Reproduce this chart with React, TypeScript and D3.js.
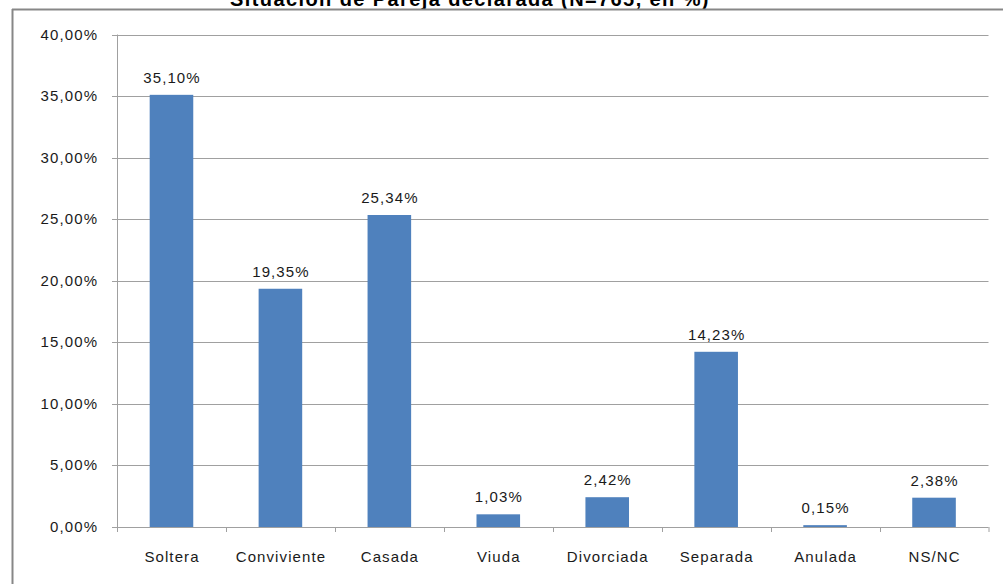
import React from "react";
import * as d3 from "d3";

const categories = ["Soltera", "Conviviente", "Casada", "Viuda", "Divorciada", "Separada", "Anulada", "NS/NC"];
const values = [35.10, 19.35, 25.34, 1.03, 2.42, 14.23, 0.15, 2.38];
const yTicks = [0, 5, 10, 15, 20, 25, 30, 35, 40];
const title = "Situación de Pareja declarada (N=765, en %)";

const W = 1003, H = 584;
const left = 117, right = 988.5, top = 34.5, bottom = 527;
const font = "'Liberation Sans', Arial, sans-serif";
const fmt = (v: number) => v.toFixed(2).replace(".", ",") + "%";
const ls = 1.1;

export default function App() {
  const x = d3.scaleBand<string>().domain(categories).range([left, right]).paddingInner(0.6).paddingOuter(0.3);
  const xb = d3.scaleBand<string>().domain(categories).range([left, right]);
  const y = d3.scaleLinear().domain([0, 40]).range([bottom, top]);
  return (
    <svg width={W} height={H} style={{ position: "absolute", left: 0, top: 0 }} fontFamily={font}>
      <rect x={0} y={0} width={W} height={H} fill="#fff" />
      <text x={470} y={6} textAnchor="middle" fontSize={20} letterSpacing={1.4} fontWeight="bold" fill="#000">{title}</text>
      <line x1={12} x2={W} y1={9.5} y2={9.5} stroke="#878787" strokeWidth={2} />
      <line x1={12.5} x2={12.5} y1={9} y2={H} stroke="#878787" strokeWidth={2} />
      {yTicks.map((t) => (
        <g key={t}>
          <line x1={left - 5} x2={right} y1={Math.round(y(t)) + 0.5} y2={Math.round(y(t)) + 0.5} stroke="#a0a0a0" strokeWidth={1} />
          <text x={97 + ls} y={y(t) + 5} textAnchor="end" fontSize={15} letterSpacing={ls} fill="#1a1a1a">{fmt(t)}</text>
        </g>
      ))}
      <line x1={left + 0.5} x2={left + 0.5} y1={top} y2={bottom} stroke="#a0a0a0" />
      {categories.map((c, i) => (
        <line key={"t" + i} x1={Math.round(xb(c)!) + 0.5} x2={Math.round(xb(c)!) + 0.5} y1={bottom} y2={bottom + 5} stroke="#a0a0a0" />
      ))}
      <line x1={right + 0.5} x2={right + 0.5} y1={bottom} y2={bottom + 5} stroke="#a0a0a0" />
      {categories.map((c, i) => (
        <g key={c}>
          <rect x={x(c)} y={y(values[i])} width={x.bandwidth()} height={bottom - y(values[i])} fill="#4f81bd" />
          <text x={x(c)! + x.bandwidth() / 2 + ls / 2} y={y(values[i]) - 12} textAnchor="middle" fontSize={15} letterSpacing={ls} fill="#1a1a1a">{fmt(values[i])}</text>
          <text x={xb(c)! + xb.bandwidth() / 2 + ls / 2} y={562} textAnchor="middle" fontSize={15} letterSpacing={ls} fill="#1a1a1a">{c}</text>
        </g>
      ))}
    </svg>
  );
}
